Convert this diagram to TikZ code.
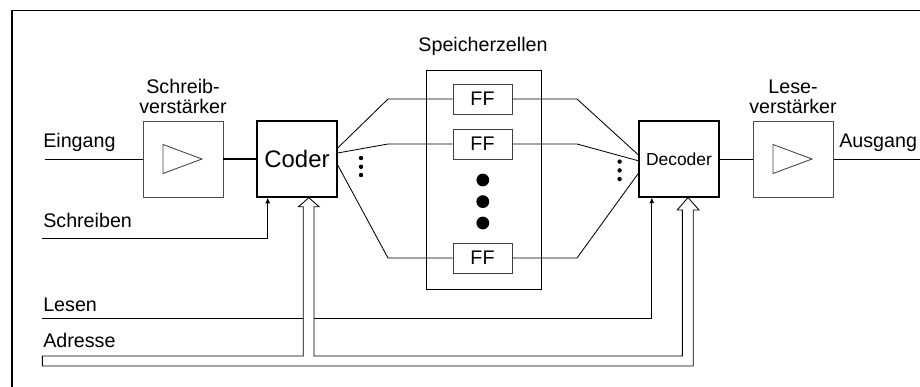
\documentclass[tikz,border=0pt]{standalone}
\usepackage{fontspec}
\setmainfont{Liberation Sans}
\usetikzlibrary{arrows.meta,calc}

\begin{document}
\begin{tikzpicture}
    \tikzstyle{block}=[draw, minimum width=2cm, minimum height=1.9cm, inner sep=0pt]
    \tikzstyle{amp}=[block, draw=black!70, line width=0.7pt]
    \tikzstyle{ff}=[draw=black!75, line width=0.6pt, minimum width=1.475cm, minimum height=0.75cm, inner sep=0pt, font=\fontsize{14}{16}\selectfont]
    \tikzstyle{lbl}=[inner sep=0pt, font=\fontsize{14}{14.2}\selectfont, align=center]
    \tikzstyle{wire}=[line width=0.6pt]
    \tikzstyle{tip}=[-{Latex[length=4pt,width=3.5pt]}]

    \useasboundingbox (0,0) rectangle (23,-9.675);
    \draw[line width=0.8pt] (0.3,-9.675) -- (0.3,-0.27) -- (23,-0.27);

    % blocks
    \node[amp] (sv) at (4.575,-3.975) {};
    \node[block, line width=1pt, font=\fontsize{17}{19}\selectfont] (coder) at (7.425,-3.975) {Coder};
    \node[block, line width=0.8pt, font=\fontsize{12.4}{14}\selectfont] (dec) at (16.975,-3.975) {Decoder};
    \node[amp] (lv) at (19.825,-3.975) {};
    \draw[black!75, line width=0.6pt] (sv) ++(-0.5,0.3625) -- ++(0.975,-0.3625) -- ++(-0.975,-0.3625) -- cycle;
    \draw[black!75, line width=0.6pt] (lv) ++(-0.5,0.3625) -- ++(0.975,-0.3625) -- ++(-0.975,-0.3625) -- cycle;

    % memory cells
    \draw[line width=0.6pt] (10.65,-1.75) rectangle (13.525,-7.225);
    \node[ff] (ff1) at (12.0625,-2.475) {FF};
    \node[ff] (ff2) at (12.0625,-3.6) {FF};
    \node[ff] (ff3) at (12.0625,-6.45) {FF};
    \foreach \y in {-4.5,-5.04,-5.575}
        \fill (12.07,\y) circle (0.16);

    % labels
    \node[lbl, anchor=base west] at (1.075,-3.7) {Eingang};
    \node[lbl, anchor=base west] at (20.975,-3.7) {Ausgang};
    \node[lbl, anchor=south] at (4.575,-2.85) {Schreib-\\verstärker};
    \node[lbl, anchor=south] at (19.825,-2.85) {Lese-\\verstärker};
    \node[lbl, anchor=base] at (12.075,-1.3) {Speicherzellen};
    \node[lbl, anchor=base west] at (1.075,-5.7) {Schreiben};
    \node[lbl, anchor=base west] at (1.075,-7.79) {Lesen};
    \node[lbl, anchor=base west] at (1.075,-8.68) {Adresse};

    % signal path
    \coordinate (in) at (1.125,-3.975);
    \coordinate (out) at (23,-3.975);
    \draw[wire] (in) -- (sv);
    \draw[line width=1pt] (sv) -- (coder);
    \draw[wire] (dec) -- (lv);
    \draw[wire] (lv) -- (out);

    % coder fan
    \draw[wire] ($(coder.east)+(0,0.275)$) -- (9.7,-2.475) -- (ff1);
    \draw[wire] ($(coder.east)+(0,0.15)$) -- (9.7,-3.6) -- (ff2);
    \draw[wire] ($(coder.east)+(0,-0.15)$) -- (9.7,-6.45) -- (ff3);
    \foreach \y in {-3.95,-4.17,-4.375}
        \fill (9.025,\y) circle (0.055);

    % decoder fan
    \draw[wire] (ff1) -- (14.425,-2.475) -- ($(dec.west)+(0,0.1)$);
    \draw[wire] (ff2) -- (14.425,-3.6) -- ($(dec.west)+(0,-0.045)$);
    \draw[wire] (ff3) -- (14.425,-6.45) -- ($(dec.west)+(0,-0.355)$);
    \foreach \y in {-4.04,-4.26,-4.475}
        \fill (15.49,\y) circle (0.055);

    % control lines
    \coordinate (wr) at (1.05,-5.96);
    \coordinate (rd) at (1.05,-7.96);
    \draw[wire, tip] (wr) -| ($(coder.south west)+(0.285,0)$);
    \draw[wire, tip] (rd) -| ($(dec.south west)+(0.335,0)$);

    % address bus
    \draw[wire, fill=white] (1.06,-8.9) -- (7.58,-8.9) -- (7.58,-5.17) -- (7.46,-5.17)
        -- ($(coder.south)+(0.295,0)$) -- (7.98,-5.17) -- (7.85,-5.17) -- (7.85,-8.9)
        -- (17.06,-8.9) -- (17.06,-5.25) -- (16.93,-5.25) -- ($(dec.south)+(0.225,0)$)
        -- (17.475,-5.25) -- (17.33,-5.25) -- (17.33,-9.15) -- (1.06,-9.15) -- cycle;
\end{tikzpicture}
\end{document}
